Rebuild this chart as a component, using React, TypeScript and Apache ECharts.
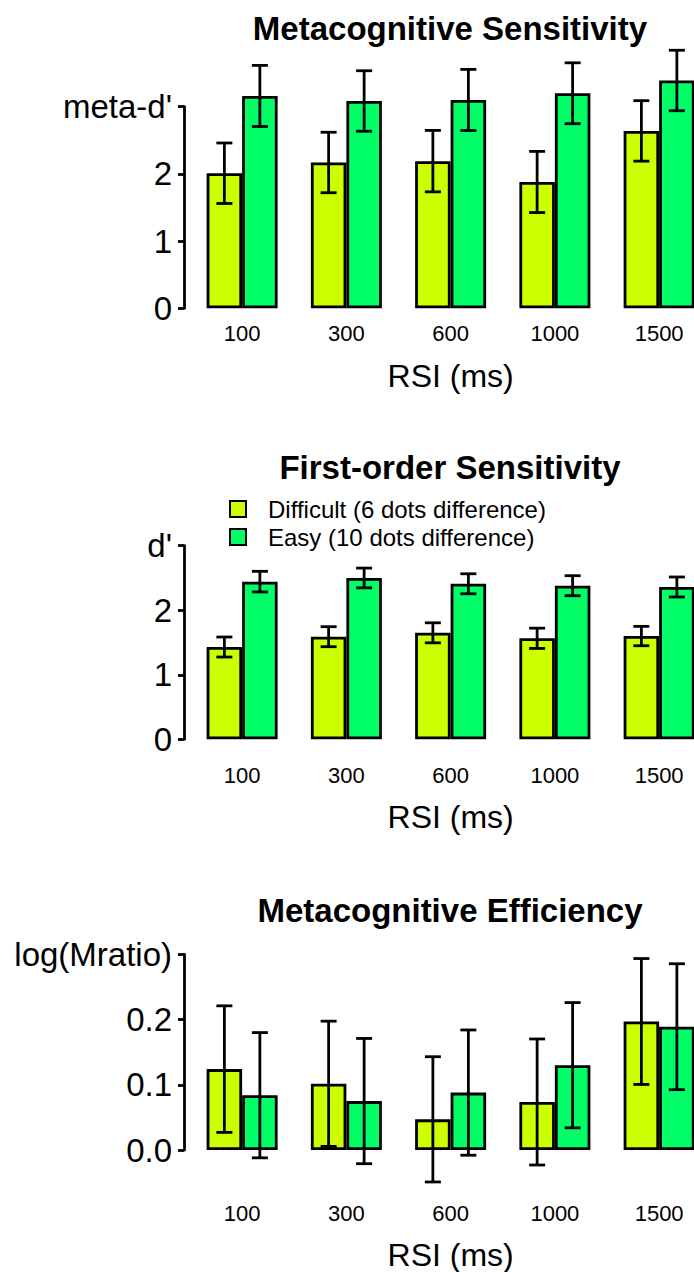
import React, { useEffect, useRef } from "react";
import * as echarts from "echarts";

// RSI conditions (ms)
const categories = ["100", "300", "600", "1000", "1500"];

// Metacognitive sensitivity (meta-d'), mean and error half-width
const metaDifficult = [2.01, 2.17, 2.19, 1.88, 2.64];
const metaDifficultErr = [0.45, 0.45, 0.457, 0.455, 0.45];
const metaEasy = [3.16, 3.085, 3.1, 3.2, 3.39];
const metaEasyErr = [0.455, 0.45, 0.455, 0.453, 0.45];
const metaTickLabels = ["0", "1", "2", "meta-d'"];

// First-order sensitivity (d')
const dDifficult = [1.43, 1.59, 1.65, 1.565, 1.6];
const dDifficultErr = [0.155, 0.155, 0.155, 0.157, 0.15];
const dEasy = [2.443, 2.5, 2.41, 2.38, 2.36];
const dEasyErr = [0.16, 0.153, 0.155, 0.155, 0.155];
const dTickLabels = ["0", "1", "2", "d'"];

// Metacognitive efficiency, log(Mratio)
const mrDifficult = [0.124, 0.1015, 0.047, 0.0736, 0.197];
const mrDifficultErr = [0.097, 0.096, 0.096, 0.0966, 0.0965];
const mrEasy = [0.084, 0.075, 0.088, 0.13, 0.189];
const mrEasyErr = [0.096, 0.096, 0.096, 0.096, 0.0965];
const mrTickLabels = ["0.0", "0.1", "0.2", "log(Mratio)"];

const DIFFICULT_NAME = "Difficult (6 dots difference)";
const EASY_NAME = "Easy (10 dots difference)";

const FONT = '"Liberation Sans", Arial, Helvetica, sans-serif';
const DIFFICULT_COLOR = "#CCFF00";
const EASY_COLOR = "#00FF66";
const BAR_W = 35.5;
const LINE_W = 2.8;
const GRID_LEFT = 190;
const GRID_WIDTH = 521.25;
// the plotting surface is wider than the page; the last group runs off the right edge
const CANVAS_W = 730;

const panels = [
  {
    title: "Metacognitive Sensitivity",
    titleY: 28,
    top: 106.7,
    height: 201.6,
    max: 3,
    interval: 1,
    ticks: metaTickLabels,
    labelMargin: 14,
    nameGap: 52,
    diff: metaDifficult,
    diffErr: metaDifficultErr,
    easy: metaEasy,
    easyErr: metaEasyErr,
  },
  {
    title: "First-order Sensitivity",
    titleY: 467,
    top: 545.7,
    height: 193.6,
    max: 3,
    interval: 1,
    ticks: dTickLabels,
    labelMargin: 25,
    nameGap: 62,
    diff: dDifficult,
    diffErr: dDifficultErr,
    easy: dEasy,
    easyErr: dEasyErr,
  },
  {
    title: "Metacognitive Efficiency",
    titleY: 910,
    top: 954.3,
    height: 196.7,
    max: 0.3,
    interval: 0.1,
    ticks: mrTickLabels,
    labelMargin: 52,
    nameGap: 89,
    diff: mrDifficult,
    diffErr: mrDifficultErr,
    easy: mrEasy,
    easyErr: mrEasyErr,
  },
];

function errorBarSeries(panelIndex: number, means: number[], errs: number[], shift: number) {
  return {
    type: "custom",
    xAxisIndex: panelIndex,
    yAxisIndex: panelIndex,
    clip: false,
    z: 5,
    data: means.map((m, k) => [k, m, errs[k]]),
    renderItem: (_params: any, api: any) => {
      const idx = api.value(0);
      const m = api.value(1);
      const e = api.value(2);
      const hi = api.coord([idx, m + e]);
      const lo = api.coord([idx, m - e]);
      const x = hi[0] + shift;
      const cap = 8;
      const style = { stroke: "#000", lineWidth: LINE_W };
      return {
        type: "group",
        children: [
          { type: "line", shape: { x1: x, y1: hi[1], x2: x, y2: lo[1] }, style },
          { type: "line", shape: { x1: x - cap, y1: hi[1], x2: x + cap, y2: hi[1] }, style },
          { type: "line", shape: { x1: x - cap, y1: lo[1], x2: x + cap, y2: lo[1] }, style },
        ],
      };
    },
  };
}

export default function App() {
  const ref = useRef<HTMLDivElement>(null);

  useEffect(() => {
    if (!ref.current) return;
    const chart = echarts.init(ref.current, undefined, { renderer: "svg" });

    const grid = panels.map((p) => ({
      left: GRID_LEFT,
      width: GRID_WIDTH,
      top: p.top,
      height: p.height,
      containLabel: false,
    }));

    const xAxis = panels.map((p, i) => ({
      type: "category",
      gridIndex: i,
      data: categories,
      axisLine: { show: false },
      axisTick: { show: false },
      axisLabel: {
        color: "#000",
        fontFamily: FONT,
        fontSize: 22,
        margin: p.labelMargin,
      },
      name: "RSI (ms)",
      nameLocation: "middle",
      nameGap: p.nameGap,
      nameTextStyle: { color: "#000", fontFamily: FONT, fontSize: 32 },
    }));

    const yAxis = panels.map((p, i) => ({
      type: "value",
      gridIndex: i,
      min: 0,
      max: p.max,
      interval: p.interval,
      offset: 6,
      splitLine: { show: false },
      axisLine: { show: true, lineStyle: { color: "#000", width: LINE_W } },
      axisTick: { show: true, length: 6, lineStyle: { color: "#000", width: LINE_W } },
      axisLabel: {
        color: "#000",
        fontFamily: FONT,
        fontSize: 33,
        margin: 12,
        formatter: (v: number) => p.ticks[Math.round(v / p.interval)] ?? "",
      },
    }));

    const series: any[] = [];
    panels.forEach((p, i) => {
      series.push({
        name: DIFFICULT_NAME,
        type: "bar",
        xAxisIndex: i,
        yAxisIndex: i,
        data: p.diff,
        barWidth: BAR_W,
        barGap: "0%",
        clip: false,
        itemStyle: { color: DIFFICULT_COLOR, borderColor: "#000", borderWidth: LINE_W },
      });
      series.push({
        name: EASY_NAME,
        type: "bar",
        xAxisIndex: i,
        yAxisIndex: i,
        data: p.easy,
        barWidth: BAR_W,
        barGap: "0%",
        clip: false,
        itemStyle: { color: EASY_COLOR, borderColor: "#000", borderWidth: LINE_W },
      });
      series.push(errorBarSeries(i, p.diff, p.diffErr, -BAR_W / 2));
      series.push(errorBarSeries(i, p.easy, p.easyErr, BAR_W / 2));
    });

    chart.setOption({
      animation: false,
      backgroundColor: "#fff",
      grid,
      xAxis,
      yAxis,
      series,
      legend: {
        data: [DIFFICULT_NAME, EASY_NAME],
        orient: "vertical",
        left: 224,
        top: 492,
        itemWidth: 16,
        itemHeight: 16,
        itemGap: 4,
        icon: "rect",
        selectedMode: false,
        textStyle: {
          color: "#000",
          fontFamily: FONT,
          fontSize: 24,
          lineHeight: 22,
          padding: [0, 0, 0, 17],
        },
      },
      graphic: panels.map((p) => ({
        type: "text",
        x: 450,
        y: p.titleY,
        style: {
          text: p.title,
          fill: "#000",
          font: `bold 33px ${FONT}`,
          textAlign: "center",
          textVerticalAlign: "middle",
        },
      })),
    });

    return () => chart.dispose();
  }, []);

  return (
    <div
      style={{
        position: "absolute",
        left: 0,
        top: 0,
        width: 694,
        height: 1272,
        overflow: "hidden",
        background: "#fff",
      }}
    >
      <div ref={ref} style={{ width: CANVAS_W, height: 1272 }} />
    </div>
  );
}
